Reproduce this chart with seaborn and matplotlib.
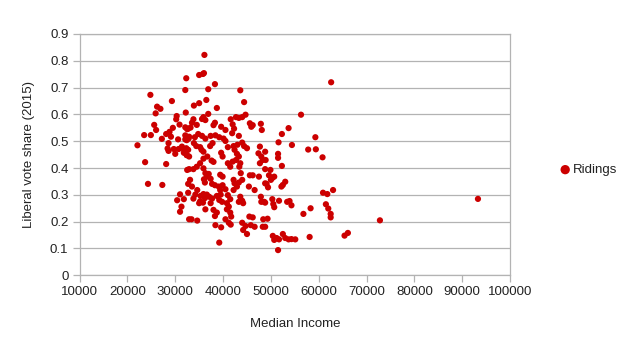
import matplotlib
matplotlib.use("Agg")
import matplotlib.pyplot as plt
import seaborn as sns
import pandas as pd

median_income = [
    22100, 23500, 23700, 24300, 24800, 24900, 25600, 26000, 25900, 26200,
    26900, 27200, 27300, 28100, 28100, 28800, 29100, 29500, 29300, 28600,
    28400, 28600, 29700, 30600, 30000, 30300, 30200, 30900, 30700, 31000,
    31800, 30400, 31300, 31000, 32900, 32100, 32500, 32100, 32100, 32800,
    32300, 31800, 32400, 32900, 32500, 32900, 32700, 32300, 32100, 32200,
    36100, 35000, 35800, 36000, 38300, 36900, 43600, 44400, 36500, 35000,
    33900, 38700, 36900, 35900, 36300, 35600, 44700, 44000, 43300, 42700,
    41600, 33800, 33500, 34500, 33200, 32700, 38300, 38000, 39600, 40500,
    42000, 42300, 41900, 43300, 45600, 46200, 45900, 47900, 48100, 52300,
    53700, 32400, 32900, 34100, 34800, 35600, 36300, 37400, 38400, 39200,
    40100, 40500, 37800, 37300, 31400, 31800, 32700, 32400, 33900, 34400,
    35200, 35500, 35900, 41000, 42200, 43000, 44000, 44400, 45000, 47700,
    39600, 39900, 42400, 42900, 43300, 42700, 43600, 47400, 48000, 48300,
    47700, 51500, 51500, 36700, 35900, 37600, 38000, 35200, 34500, 52300,
    41000, 41500, 42000, 33800, 35900, 36300, 37000, 36600, 37400, 39400,
    39900, 43400, 43700, 44000, 45600, 46200, 47500, 49600, 50300, 50000,
    53000, 33100, 33500, 36000, 36200, 37700, 38300, 39100, 39900, 39400,
    40500, 42200, 42400, 42900, 42200, 43300, 45400, 46600, 48800, 49400,
    52200, 52500, 32700, 34600, 34200, 33800, 35300, 35900, 36200, 36600,
    37100, 37700, 37400, 35000, 35200, 35800, 38700, 39500, 39200, 39800,
    41000, 41500, 40800, 41200, 43600, 44000, 43300, 44200, 47900, 48000,
    48600, 50300, 50500, 51700, 53400, 36300, 38000, 38700, 38300, 40800,
    41500, 41700, 33400, 34600, 38400, 39600, 40500, 41200, 41600, 44000,
    44700, 44200, 45000, 45500, 46200, 45800, 46600, 48400, 49300, 48300,
    39200, 50400, 50700, 51200, 51700, 52500, 53000, 51500, 53700, 62600,
    56300, 59300, 54400, 57800, 59400, 60800, 60900, 61800, 63000, 53900,
    54300, 56800, 58300, 61500, 62000, 62500, 62500, 72800, 54300, 55100,
    58100, 65400, 66100, 93300, 51600, 48800, 48900, 48800, 49900, 50700,
    49100, 48800, 50700, 48800,
]

liberal_share = [
    0.485, 0.523, 0.422, 0.341, 0.673, 0.523, 0.561, 0.542, 0.604, 0.629,
    0.621, 0.509, 0.337, 0.415, 0.527, 0.535, 0.517, 0.550, 0.650, 0.493,
    0.473, 0.464, 0.471, 0.507, 0.453, 0.594, 0.582, 0.562, 0.471, 0.302,
    0.284, 0.280, 0.256, 0.237, 0.209, 0.552, 0.545, 0.522, 0.507, 0.510,
    0.474, 0.457, 0.449, 0.443, 0.393, 0.396, 0.341, 0.735, 0.691, 0.607,
    0.822, 0.747, 0.751, 0.754, 0.713, 0.694, 0.690, 0.646, 0.654, 0.642,
    0.633, 0.624, 0.602, 0.590, 0.579, 0.583, 0.599, 0.590, 0.587, 0.590,
    0.582, 0.582, 0.569, 0.561, 0.551, 0.547, 0.569, 0.560, 0.554, 0.542,
    0.563, 0.547, 0.530, 0.520, 0.567, 0.560, 0.554, 0.565, 0.542, 0.527,
    0.549, 0.504, 0.517, 0.515, 0.527, 0.520, 0.510, 0.520, 0.522, 0.515,
    0.510, 0.501, 0.493, 0.482, 0.480, 0.470, 0.468, 0.448, 0.493, 0.482,
    0.478, 0.468, 0.461, 0.478, 0.482, 0.487, 0.495, 0.482, 0.474, 0.480,
    0.457, 0.443, 0.468, 0.453, 0.443, 0.430, 0.418, 0.455, 0.443, 0.430,
    0.418, 0.453, 0.438, 0.443, 0.435, 0.428, 0.423, 0.418, 0.405, 0.408,
    0.418, 0.405, 0.424, 0.396, 0.399, 0.381, 0.378, 0.368, 0.360, 0.375,
    0.368, 0.405, 0.381, 0.356, 0.373, 0.373, 0.368, 0.373, 0.363, 0.356,
    0.349, 0.356, 0.331, 0.358, 0.346, 0.341, 0.336, 0.331, 0.336, 0.318,
    0.321, 0.356, 0.343, 0.331, 0.318, 0.346, 0.331, 0.318, 0.343, 0.328,
    0.331, 0.337, 0.308, 0.318, 0.301, 0.286, 0.296, 0.303, 0.288, 0.301,
    0.293, 0.286, 0.269, 0.269, 0.276, 0.271, 0.296, 0.301, 0.281, 0.274,
    0.299, 0.284, 0.269, 0.256, 0.293, 0.278, 0.274, 0.269, 0.293, 0.274,
    0.274, 0.284, 0.266, 0.278, 0.274, 0.246, 0.244, 0.234, 0.221, 0.246,
    0.234, 0.219, 0.209, 0.204, 0.187, 0.179, 0.209, 0.196, 0.189, 0.196,
    0.184, 0.169, 0.154, 0.219, 0.216, 0.187, 0.181, 0.209, 0.211, 0.181,
    0.122, 0.147, 0.132, 0.139, 0.134, 0.154, 0.139, 0.094, 0.134, 0.720,
    0.599, 0.515, 0.486, 0.469, 0.470, 0.440, 0.308, 0.303, 0.318, 0.277,
    0.261, 0.229, 0.250, 0.265, 0.249, 0.229, 0.216, 0.205, 0.135, 0.134,
    0.143, 0.148, 0.158, 0.285, 0.496, 0.461, 0.430, 0.396, 0.393, 0.368,
    0.341, 0.271, 0.254, 0.181,
]

series_name = "Ridings"
x_label = "Median Income"
y_label = "Liberal vote share (2015)"
x_ticks = [10000, 20000, 30000, 40000, 50000, 60000, 70000, 80000, 90000, 100000]
y_ticks = [0, 0.1, 0.2, 0.3, 0.4, 0.5, 0.6, 0.7, 0.8, 0.9]
y_tick_labels = ["0", "0.1", "0.2", "0.3", "0.4", "0.5", "0.6", "0.7", "0.8", "0.9"]

n = min(len(median_income), len(liberal_share))
df = pd.DataFrame({"income": median_income[:n], "share": liberal_share[:n]})

sns.set_theme(style="white")
plt.rcParams["font.family"] = ["Liberation Sans", "DejaVu Sans"]

fig = plt.figure(figsize=(6.21, 3.45), dpi=100)
ax = fig.add_axes([79.6 / 621, 1 - 275.3 / 345, (510 - 79.6) / 621, (275.3 - 34) / 345])

red = "#cc0000"
sns.scatterplot(data=df, x="income", y="share", ax=ax, color=red, s=20,
                edgecolor="none", linewidth=0, label=series_name, legend=False)

ax.set_xlim(10000, 100000)
ax.set_ylim(0, 0.9)
ax.set_xticks(x_ticks)
ax.set_xticklabels([str(t) for t in x_ticks], fontsize=9.5, color="#222222")
ax.set_yticks(y_ticks)
ax.set_yticklabels(y_tick_labels, fontsize=9.5, color="#222222")

grid_c = "#b3b3b3"
ax.yaxis.grid(True, color=grid_c, linewidth=0.9)
ax.xaxis.grid(False)
for sp in ax.spines.values():
    sp.set_color(grid_c)
    sp.set_linewidth(0.9)
    sp.set_visible(True)
ax.tick_params(axis="both", which="both", length=5, width=0.9, color=grid_c,
               direction="out", pad=3, left=True, bottom=True)

ax.set_xlabel(x_label, fontsize=9.5, color="#222222", labelpad=14)
ax.set_ylabel(y_label, fontsize=9.5, color="#222222", labelpad=11)

handles, labels = ax.get_legend_handles_labels()
fig.legend(handles, labels, loc="center left", bbox_to_anchor=(552 / 621, 1 - 170 / 345),
           frameon=False, fontsize=9.5, handletextpad=0.1, borderpad=0,
           markerscale=1.5, handlelength=1.0, labelcolor="#222222")

fig.savefig("out.png", dpi=100)
